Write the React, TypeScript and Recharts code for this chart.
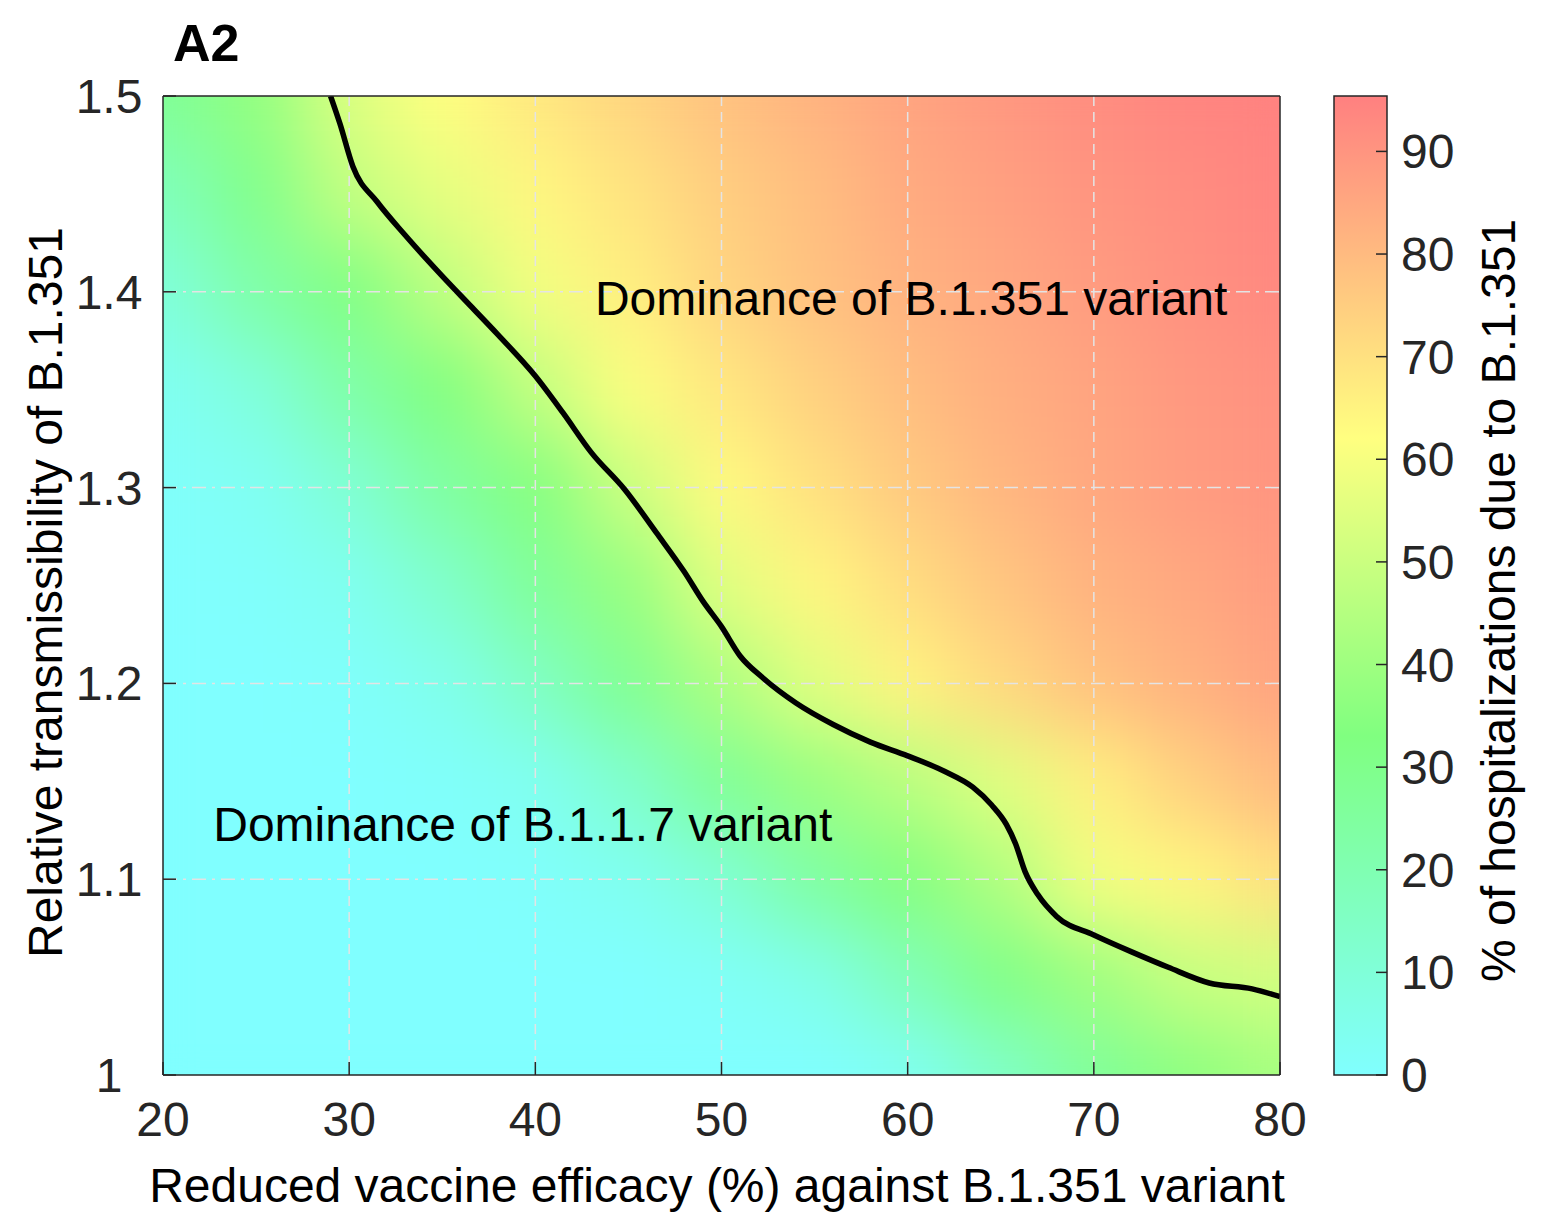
import React from "react";
import {
  Bar,
  BarChart,
  CartesianGrid,
  ComposedChart,
  Line,
  ReferenceDot,
  Scatter,
  XAxis,
  YAxis,
} from "recharts";

const FONT = '"Liberation Sans", Arial, Helvetica, sans-serif';
const INK = "#262626";

// tick labels
const xTicks = [20, 30, 40, 50, 60, 70, 80];
const yTicks = [1, 1.1, 1.2, 1.3, 1.4, 1.5];
const colorTicks = [0, 10, 20, 30, 40, 50, 60, 70, 80, 90];

// sampling grid of the surface
const efficacy = [20, 25, 30, 35, 40, 45, 50, 55, 60, 65, 70, 75, 80];
const transmissibility = [1, 1.05, 1.1, 1.15, 1.2, 1.25, 1.3, 1.35, 1.4, 1.45, 1.5];

// % of hospitalizations due to B.1.351, one row per transmissibility value
const share = [
  [0, 0, 0, 0, 0, 0, 0, 0, 3, 14, 26, 36, 42],
  [0, 0, 0, 0, 0, 0, 2, 6, 18, 31, 40, 49, 52],
  [0, 0, 0, 0, 1, 4, 11, 24, 34, 44, 59, 64, 70],
  [0, 0, 0, 1, 4, 13, 27, 39, 46, 55, 66, 74, 80],
  [0, 0, 1, 5, 15, 28, 43, 55, 65, 72, 78, 82, 86],
  [0, 1, 4, 13, 26, 38, 55, 64, 71, 77, 82, 85, 88],
  [1, 3, 11, 24, 34, 50, 63, 70, 76, 81, 85, 88, 90],
  [3, 9, 22, 33, 48, 61, 68, 74, 79, 83, 86, 89, 91],
  [9, 22, 32, 47, 59, 66, 73, 78, 82, 85, 88, 91, 93],
  [17, 30, 48, 56, 64, 69, 75, 79, 84, 87, 90, 92, 94],
  [27, 37, 54, 62, 68, 73, 78, 82, 86, 89, 92, 94, 95],
];

// 50% line (equal share of both variants)
const contourX = [
  29, 29.5, 30.2, 31.5, 33, 35, 36.5, 38, 40, 41.5, 43, 44.8, 46.5, 48, 49, 50,
  51, 52.2, 54, 56, 58, 60, 62, 63.5, 64.5, 65.3, 65.8, 66.3, 67, 68, 70, 72,
  74, 76.2, 78.5, 80,
];
const contourY = [
  1.5, 1.486, 1.464, 1.446, 1.429, 1.408, 1.393, 1.378, 1.357, 1.338, 1.318,
  1.299, 1.277, 1.257, 1.242, 1.229, 1.214, 1.203, 1.19, 1.179, 1.17, 1.163,
  1.155, 1.147, 1.138, 1.128, 1.118, 1.104, 1.092, 1.081, 1.0715, 1.063, 1.055,
  1.047, 1.044, 1.04,
];

// colour scale
const colorStops = [0, 33, 62, 95.4];
const colorHexes = ["#80ffff", "#80ff80", "#ffff80", "#ff8080"];
const colorMax = 95.4;

// plot box in page pixels
const PLOT = { left: 163, top: 96, width: 1117, height: 979 };
const CELL_W = (PLOT.width * 5) / 60 + 1;
const CELL_H = (PLOT.height * 0.05) / 0.5 + 1;

const hexToRgb = (h: string) => [1, 3, 5].map((i) => parseInt(h.slice(i, i + 2), 16));

function colorAt(v: number) {
  let i = 0;
  while (i < colorStops.length - 2 && v > colorStops[i + 1]) i++;
  const t = Math.max(0, Math.min(1, (v - colorStops[i]) / (colorStops[i + 1] - colorStops[i])));
  const a = hexToRgb(colorHexes[i]);
  const b = hexToRgb(colorHexes[i + 1]);
  return `rgb(${a.map((c, k) => Math.round(c + (b[k] - c) * t)).join(",")})`;
}

const heatPoints = transmissibility.flatMap((y, i) =>
  efficacy.map((x, j) => ({ x, y, v: share[i][j] }))
);
const contour = contourX.map((x, i) => ({ x, y: contourY[i] }));
const colorbarData = [{ name: "scale", v: colorMax }];

const HeatCell = (props: any) => {
  const { cx, cy, payload } = props;
  return (
    <rect
      x={cx - CELL_W / 2}
      y={cy - CELL_H / 2}
      width={CELL_W}
      height={CELL_H}
      fill={colorAt(payload.v)}
    />
  );
};

const xTitle = (props: any) => {
  const vb = props.viewBox ?? { x: 163, y: 1075, width: 1117, height: 30 };
  return (
    <text
      x={vb.x + vb.width / 2 - 4.5}
      y={vb.y + 127}
      textAnchor="middle"
      fontSize={48}
      fontFamily={FONT}
      fill="#000"
    >
      Reduced vaccine efficacy (%) against B.1.351 variant
    </text>
  );
};

const yTitle = (props: any) => {
  const vb = props.viewBox ?? { x: 103, y: 96, width: 60, height: 979 };
  const cx = vb.x + vb.width - 101;
  const cy = vb.y + vb.height / 2 + 7;
  return (
    <text
      x={cx}
      y={cy}
      transform={`rotate(-90, ${cx}, ${cy})`}
      textAnchor="middle"
      fontSize={48}
      fontFamily={FONT}
      fill="#000"
    >
      Relative transmissibility of B.1.351
    </text>
  );
};

const colorTitle = (props: any) => {
  const vb = props.viewBox ?? { x: 113, y: 96, width: 157, height: 979 };
  const cx = vb.x + 128;
  const cy = vb.y + vb.height / 2 + 15;
  return (
    <text
      x={cx}
      y={cy}
      transform={`rotate(-90, ${cx}, ${cy})`}
      textAnchor="middle"
      fontSize={48}
      fontFamily={FONT}
      fill="#000"
    >
      % of hospitalizations due to B.1.351
    </text>
  );
};

const tickFont = { fontSize: 48, fontFamily: FONT, fill: INK };

export default function App() {
  return (
    <div style={{ position: "relative", width: 1544, height: 1216, background: "#fff" }}>
      <style>{"body{margin:0} .heat{filter:url(#heatSmooth)}"}</style>
      <svg width={0} height={0} style={{ position: "absolute" }}>
        <defs>
          <filter
            id="heatSmooth"
            x="-5%"
            y="-5%"
            width="110%"
            height="110%"
            colorInterpolationFilters="sRGB"
          >
            <feGaussianBlur stdDeviation={35} />
            <feComponentTransfer>
              <feFuncA type="table" tableValues="1 1" />
            </feComponentTransfer>
          </filter>
          <linearGradient id="colorbarFill" x1="0" y1="1" x2="0" y2="0">
            {colorStops.map((s, i) => (
              <stop key={s} offset={s / colorMax} stopColor={colorHexes[i]} />
            ))}
          </linearGradient>
        </defs>
      </svg>

      <ComposedChart
        width={1544}
        height={1216}
        margin={{ top: 66, right: 204, bottom: 111, left: 103 }}
      >
        <Scatter
          className="heat"
          xAxisId="b"
          yAxisId="l"
          data={heatPoints}
          shape={HeatCell}
          isAnimationActive={false}
          zIndex={-200}
        />
        <CartesianGrid
          xAxisId="b"
          yAxisId="l"
          horizontal={false}
          verticalValues={[30, 40, 50, 60, 70]}
          stroke="#e4e4e4"
          strokeWidth={1.5}
          strokeDasharray="10 6"
        />
        <CartesianGrid
          xAxisId="b"
          yAxisId="l"
          vertical={false}
          horizontalValues={[1.1, 1.2, 1.3, 1.4]}
          stroke="#e4e4e4"
          strokeWidth={1.5}
          strokeDasharray="14 6 3 6"
        />
        <Line
          xAxisId="b"
          yAxisId="l"
          data={contour}
          dataKey="y"
          type="monotone"
          stroke="#000"
          strokeWidth={5.5}
          dot={false}
          activeDot={false}
          isAnimationActive={false}
        />
        <ReferenceDot
          xAxisId="b"
          yAxisId="l"
          x={43.2}
          y={1.397}
          r={0}
          fill="none"
          stroke="none"
          label={{
            value: "Dominance of B.1.351 variant",
            position: "right",
            offset: 0,
            fontSize: 48,
            fontFamily: FONT,
            fill: "#000",
          }}
        />
        <ReferenceDot
          xAxisId="b"
          yAxisId="l"
          x={22.7}
          y={1.128}
          r={0}
          fill="none"
          stroke="none"
          label={{
            value: "Dominance of B.1.1.7 variant",
            position: "right",
            offset: 0,
            fontSize: 48,
            fontFamily: FONT,
            fill: "#000",
          }}
        />
        <XAxis
          xAxisId="b"
          type="number"
          dataKey="x"
          domain={[20, 80]}
          ticks={xTicks}
          interval={0}
          allowDataOverflow
          height={30}
          tickSize={-13}
          tickMargin={40}
          stroke={INK}
          strokeWidth={1.5}
          tick={tickFont}
          label={xTitle}
        />
        <XAxis
          xAxisId="t"
          orientation="top"
          type="number"
          domain={[20, 80]}
          ticks={xTicks}
          interval={0}
          height={30}
          tickSize={-13}
          stroke={INK}
          strokeWidth={1.5}
          tick={false}
        />
        <YAxis
          yAxisId="l"
          type="number"
          dataKey="y"
          domain={[1, 1.5]}
          ticks={yTicks}
          interval={0}
          allowDataOverflow
          width={60}
          tickSize={-13}
          tickMargin={67}
          stroke={INK}
          strokeWidth={1.5}
          tick={{ ...tickFont, textAnchor: "middle" }}
          label={yTitle}
        />
        <YAxis
          yAxisId="r"
          orientation="right"
          type="number"
          domain={[1, 1.5]}
          ticks={yTicks}
          interval={0}
          width={60}
          tickSize={-13}
          stroke={INK}
          strokeWidth={1.5}
          tick={false}
        />
      </ComposedChart>

      <div style={{ position: "absolute", left: 1274, top: 0 }}>
        <BarChart
          width={270}
          height={1216}
          data={colorbarData}
          margin={{ top: 96, right: 0, bottom: 141, left: 60 }}
          barCategoryGap={0}
        >
          <Bar
            dataKey="v"
            fill="url(#colorbarFill)"
            stroke={INK}
            strokeWidth={1.5}
            isAnimationActive={false}
          />
          <XAxis dataKey="name" hide />
          <YAxis
            orientation="right"
            type="number"
            domain={[0, colorMax]}
            ticks={colorTicks}
            interval={0}
            width={157}
            axisLine={false}
            tickSize={-11}
            tickMargin={25}
            stroke={INK}
            strokeWidth={1.5}
            tick={tickFont}
            label={colorTitle}
          />
        </BarChart>
      </div>

      <svg
        width={140}
        height={90}
        style={{ position: "absolute", left: 160, top: 0, pointerEvents: "none" }}
      >
        <text x={13} y={61} fontSize={52} fontWeight="bold" fontFamily={FONT} fill="#000">
          A2
        </text>
      </svg>
    </div>
  );
}
